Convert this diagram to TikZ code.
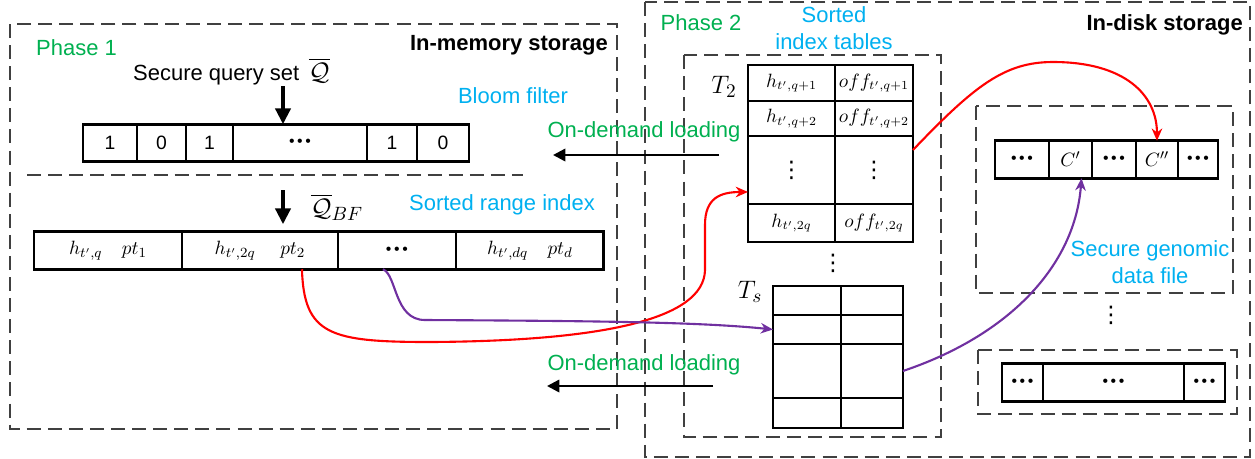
\documentclass[tikz,border=0pt]{standalone}
\usepackage[no-math]{fontspec}
\setmainfont{Liberation Sans}
\newfontfamily\symfont{DejaVu Sans}
\usepackage{amsmath,amssymb}
\usetikzlibrary{positioning,arrows.meta}

\definecolor{phasegreen}{RGB}{0,176,80}
\definecolor{notecyan}{RGB}{0,176,240}
\definecolor{linkpurple}{RGB}{112,48,160}
\newcommand{\celldots}{{\fontsize{9}{9}\selectfont •\,•\,•}}
\newcommand{\colldots}{{\symfont\fontsize{13}{14}\selectfont ⋮}}
\newcommand{\bigQ}{\fontsize{15}{16}\selectfont}

\begin{document}
\begin{tikzpicture}[
x=0.02cm, y=-0.02cm,
>=Latex,
every node/.style={font=\fontsize{12.5}{15.2}\selectfont},
region/.style={
draw=black!75,
line width=0.75pt,
dash pattern=on 8pt off 4pt
},
cell/.style={
draw,
line width=1.6pt,
minimum height=0.75cm,
inner sep=0pt,
outer sep=0pt,
font=\fontsize{11}{13}\selectfont
},
tabcell/.style={
draw,
line width=0.8pt,
inner sep=0pt,
outer sep=0pt,
font=\fontsize{10.5}{12}\selectfont
},
t2left/.style={tabcell, minimum width=1.74cm},
t2right/.style={tabcell, minimum width=1.56cm},
tsleft/.style={tabcell, line width=1.1pt, minimum width=1.36cm},
tsright/.style={tabcell, line width=1.1pt, minimum width=1.24cm},
phase/.style={text=phasegreen},
note/.style={text=notecyan, align=center},
storage/.style={font=\fontsize{12.5}{15.2}\selectfont\bfseries, anchor=east},
tlabel/.style={font=\fontsize{15}{17}\selectfont},
vdotsnode/.style={inner sep=0pt},
bigarrow/.style={-{Triangle[length=9pt,width=8.5pt]}, line width=2.2pt},
loadarrow/.style={-{Triangle[length=7pt,width=7pt]}, line width=1.4pt},
link/.style={-{Stealth[length=7pt,width=6pt]}, line width=1.2pt}
]
\useasboundingbox (0,0) rectangle (1255,458);

% Storage regions
\draw[region] (10,24) rectangle (617,429);
\draw[region] (27,175) -- (523,175);
\draw[region] (645,2) rectangle (1250,457);
\draw[region] (684,55) rectangle (941,437);
\draw[region] (976,106) rectangle (1233,293);
\draw[region] (978,350) rectangle (1237,414);

% Labels
\node[phase, anchor=west] (phase1) at (30,48) {Phase 1};
\node[storage] (memlabel) at (614,45) {In-memory storage};
\node[phase] (phase2) at (701,23) {Phase 2};
\node[storage] (disklabel) at (1249,25) {In-disk storage};
\node[anchor=base west] (query) at (127,80) {Secure query set\, {\bigQ$\overline{\mathcal{Q}}$}};
\node[note] (bloomlabel) at (513,96) {Bloom filter};
\node (qbflabel) at (337,207) {\bigQ$\overline{\mathcal{Q}}_{BF}$};
\node[note] (rangelabel) at (502,205) {Sorted range index};
\node[note] (tablabel) at (834,28) {Sorted\\index tables};
\node[note] (filelabel) at (1150,262) {Secure genomic\\data file};
\node[phase] (load1) at (644,132) {On-demand loading};
\node[phase] (load2) at (644,365) {On-demand loading};

% Bloom filter
\node[cell, minimum width=1.08cm, anchor=west] (bf1) at (83,143) {1};
\node[cell, minimum width=0.98cm, right=0pt of bf1] (bf2) {0};
\node[cell, minimum width=0.94cm, right=0pt of bf2] (bf3) {1};
\node[cell, minimum width=2.68cm, right=0pt of bf3] (bf4) {\celldots};
\node[cell, minimum width=1.00cm, right=0pt of bf4] (bf5) {1};
\node[cell, minimum width=1.04cm, right=0pt of bf5] (bf6) {0};

% Sorted range index
\node[cell, minimum width=2.96cm, anchor=west] (ri1) at (34,250.5) {$h_{t',q}\quad pt_1$};
\node[cell, minimum width=3.12cm, right=0pt of ri1] (ri2) {$h_{t',2q}\quad\; pt_2$};
\node[cell, minimum width=2.36cm, right=0pt of ri2] (ri3) {\celldots};
\node[cell, minimum width=2.96cm, right=0pt of ri3] (ri4) {$h_{t',dq}\quad pt_d$};

% Index table T2
\node[tlabel] (t2label) at (724,87) {$T_2$};
\node[t2left, minimum height=0.72cm, anchor=north west] (t2a1) at (748,65) {$h_{t',q+1}$};
\node[t2right, minimum height=0.72cm, right=0pt of t2a1] (t2b1) {$off_{t',q+1}$};
\node[t2left, minimum height=0.70cm, below=0pt of t2a1] (t2a2) {$h_{t',q+2}$};
\node[t2right, minimum height=0.70cm, right=0pt of t2a2] (t2b2) {$off_{t',q+2}$};
\node[t2left, minimum height=1.36cm, below=0pt of t2a2] (t2a3) {\colldots};
\node[t2right, minimum height=1.36cm, right=0pt of t2a3] (t2b3) {\colldots};
\node[t2left, minimum height=0.76cm, below=0pt of t2a3] (t2a4) {$h_{t',2q}$};
\node[t2right, minimum height=0.76cm, right=0pt of t2a4] (t2b4) {$off_{t',2q}$};
\node[vdotsnode] (t2dots) at (833,263) {\colldots};

% Index table Ts
\node[tlabel] (tslabel) at (750,292) {$T_s$};
\node[tsleft, minimum height=0.58cm, anchor=north west] (tsa1) at (773,286) {};
\node[tsright, minimum height=0.58cm, right=0pt of tsa1] (tsb1) {};
\node[tsleft, minimum height=0.58cm, below=0pt of tsa1] (tsa2) {};
\node[tsright, minimum height=0.58cm, right=0pt of tsa2] (tsb2) {};
\node[tsleft, minimum height=1.08cm, below=0pt of tsa2] (tsa3) {};
\node[tsright, minimum height=1.08cm, right=0pt of tsa3] (tsb3) {};
\node[tsleft, minimum height=0.60cm, below=0pt of tsa3] (tsa4) {};
\node[tsright, minimum height=0.60cm, right=0pt of tsa4] (tsb4) {};

% Genomic data files
\node[cell, minimum width=1.08cm, anchor=west] (fa1) at (995,159.5) {\celldots};
\node[cell, minimum width=0.86cm, right=0pt of fa1] (fa2) {$C'$};
\node[cell, minimum width=0.88cm, right=0pt of fa2] (fa3) {\celldots};
\node[cell, minimum width=0.84cm, right=0pt of fa3] (fa4) {$C''$};
\node[cell, minimum width=0.80cm, right=0pt of fa4] (fa5) {\celldots};
\node[vdotsnode] (filedots) at (1111,315) {\colldots};
\node[cell, minimum width=0.82cm, anchor=west] (fb1) at (1002,382.5) {\celldots};
\node[cell, minimum width=2.82cm, right=0pt of fb1] (fb2) {\celldots};
\node[cell, minimum width=0.82cm, right=0pt of fb2] (fb3) {\celldots};

% Arrows
\coordinate (qtop) at (283,86);
\coordinate (qbf) at (283,190);
\coordinate (load1s) at (719,155);
\coordinate (load1e) at (553,155);
\coordinate (load2s) at (713,386);
\coordinate (load2e) at (547,386);

\draw[bigarrow] (qtop) -- (qtop |- bf4.north);
\draw[bigarrow, shorten >=0.15cm] (qbf) -- (qbf |- ri2.north);
\draw[loadarrow] (load1s) -- (load1e);
\draw[loadarrow] (load2s) -- (load2e);

\draw[link, red] ([xshift=2.4cm]ri2.south west)
.. controls (304,335) and (330,342) .. (430,342)
.. controls (600,341) and (704,320) .. (705,270)
-- (705,225)
.. controls (705,198) and (720,192) .. ([yshift=-0.44cm]t2a3.west);
\draw[link, linkpurple] ([xshift=0.9cm]ri3.south west)
.. controls (397,275) and (394,320) .. (425,320)
.. controls (600,321) and (700,322) .. (tsa2.west);
\draw[link, red] ([yshift=-0.28cm]t2b3.north east)
.. controls (975,85) and (1005,62) .. (1053,62)
.. controls (1125,62) and (1157,95) .. (fa4.north);
\draw[link, linkpurple] (tsb3.east)
.. controls (1010,335) and (1075,265) .. ([xshift=0.22cm]fa2.south);

\end{tikzpicture}
\end{document}
